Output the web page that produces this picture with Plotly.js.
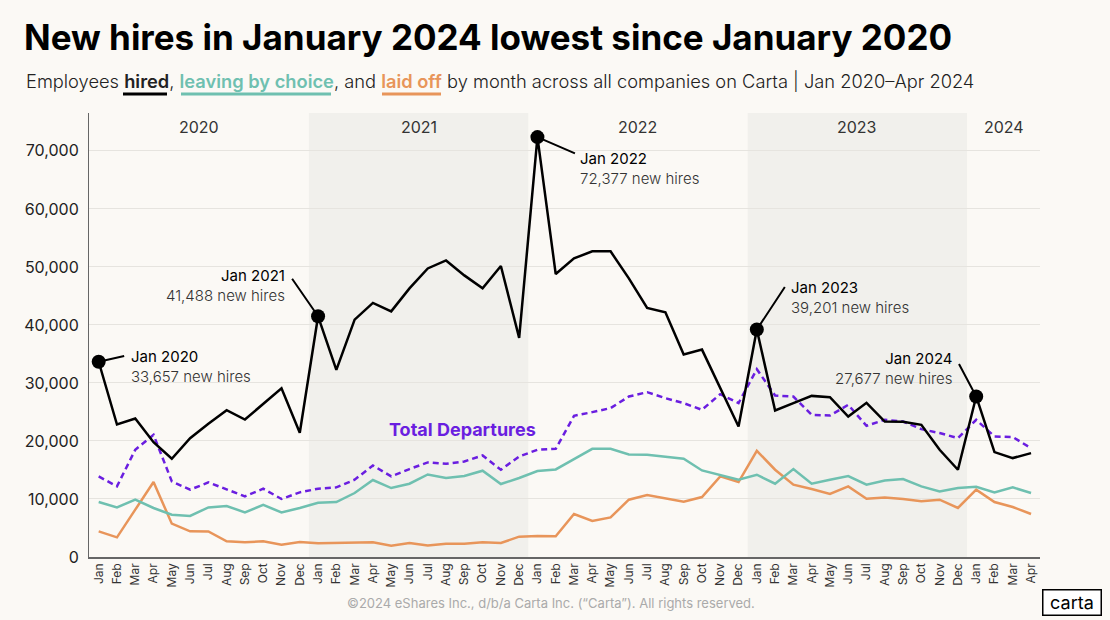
<!DOCTYPE html>
<html>
<head>
<meta charset="utf-8">
<script src="https://cdn.plot.ly/plotly-3.0.1.min.js"></script>
<style>
html,body{margin:0;padding:0;background:#fbf9f5;}
#chart{width:1110px;height:620px;}
</style>
</head>
<body>
<div id="chart"></div>
<script>
// ---- data ----
const monthNames = ["Jan","Feb","Mar","Apr","May","Jun","Jul","Aug","Sep","Oct","Nov","Dec"];
const years = [2020, 2021, 2022, 2023, 2024];
const monthsInYear = [12, 12, 12, 12, 4];

const hired = [33657, 22840, 23870, 19790, 16930, 20480, 22960, 25300, 23700, 26400, 29090, 21410,
  41488, 32250, 40910, 43790, 42340, 46300, 49740, 51120, 48540, 46300, 50150, 37760,
  72377, 48770, 51470, 52680, 52680, 48030, 42920, 42180, 34890, 35750, 29200, 22490,
  39201, 25250, 26520, 27770, 27550, 24210, 26570, 23350, 23300, 22780, 18480, 15040,
  27677, 18080, 17050, 17910];

const leavingByChoice = [9480, 8550, 9880, 8450, 7300, 7070, 8550, 8790, 7690, 8970, 7690, 8450,
  9360, 9480, 11030, 13270, 11890, 12630, 14230, 13610, 13960, 14870, 12580, 13610,
  14820, 15090, 16880, 18650, 18650, 17670, 17620, 17330, 16930, 14920, 14060, 13320,
  14180, 12630, 15160, 12630, 13320, 13960, 12460, 13200, 13440, 12170, 11310, 11890,
  12110, 11140, 12000, 11030];

const laidOff = [4420, 3390, 8160, 12920, 5750, 4420, 4400, 2700, 2530, 2700, 2130, 2600,
  2360, 2420, 2360, 2530, 1960, 2420, 1990, 2300, 2300, 2530, 2420, 3510,
  3630, 3560, 7410, 6210, 6830, 9880, 10690, 10100, 9530, 10340, 13890, 12920,
  18310, 15040, 12460, 11720, 10860, 12170, 10050, 10270, 10000, 9590, 9880, 8450,
  11600, 9480, 8620, 7410];

const totalDepartures = [13890, 12170, 18480, 21060, 13030, 11600, 12860, 11600, 10450, 11770, 10000, 11140,
  11770, 12000, 13320, 15780, 13890, 15160, 16300, 16070, 16470, 17500, 15040, 17330,
  18480, 18650, 24330, 24970, 25660, 27660, 28410, 27380, 26520, 25370, 28070, 26520,
  32370, 27830, 27660, 24500, 24390, 26230, 22610, 23640, 23350, 22040, 21360, 20500,
  23640, 20770, 20670, 18770];

const yTicks = [0, 10000, 20000, 30000, 40000, 50000, 60000, 70000];

// ---- derived ----
const xIdx = [], tickText = [], yearStart = [];
let k = 0;
years.forEach((y, yi) => {
  yearStart.push(k);
  for (let m = 0; m < monthsInYear[yi]; m++) { xIdx.push(k); tickText.push(monthNames[m]); k++; }
});
const janIdx = yearStart.slice();
const janVals = janIdx.map(i => hired[i]);

const C = {hired:'#000000', leave:'#6fc0b0', laid:'#e8955a', dep:'#6a1ee0', bg:'#fbf9f5', shade:'#f1f0ec'};
const FONT = 'Inter, "Noto Sans", sans-serif';

const L = 89, R = 70, T = 113, B = 63, W = 1110, H = 620;
const pw = W - L - R, ph = H - T - B;
const px2x = px => (px - L) / pw;
const py2y = py => (H - B - py) / ph;

const traces = [
  {x: xIdx, y: laidOff, mode:'lines', line:{color:C.laid, width:2.5}, hoverinfo:'skip'},
  {x: xIdx, y: leavingByChoice, mode:'lines', line:{color:C.leave, width:2.5}, hoverinfo:'skip'},
  {x: xIdx, y: totalDepartures, mode:'lines', line:{color:C.dep, width:2.5, dash:'6px,4px'}, hoverinfo:'skip'},
  {x: xIdx, y: hired, mode:'lines', line:{color:C.hired, width:2.5}, hoverinfo:'skip'},
  {x: janIdx, y: janVals, mode:'markers', marker:{color:'#000', size:14}, hoverinfo:'skip'}
];

const shapes = [];
years.forEach((y, yi) => {
  if (yi % 2 === 1) {
    shapes.push({type:'rect', xref:'x', yref:'paper', x0: yearStart[yi]-0.5, x1: yearStart[yi]+monthsInYear[yi]-0.5,
      y0:0, y1:1, fillcolor:C.shade, line:{width:0}, layer:'below'});
  }
});
// subtitle underlines
[[123,167,C.hired],[181,331,C.leave],[382,441,C.laid]].forEach(u => {
  shapes.push({type:'line', xref:'paper', yref:'paper', x0:px2x(u[0]), x1:px2x(u[1]), y0:py2y(94), y1:py2y(94),
    line:{color:u[2], width:3}});
});

const annotations = [];
// year labels
years.forEach((y, yi) => {
  annotations.push({x: yearStart[yi] + (monthsInYear[yi]-1)/2, xref:'x', y: py2y(127), yref:'paper',
    text: String(y), showarrow:false, font:{family:FONT, size:16, color:'#333'}, xanchor:'center', yanchor:'middle'});
});
// callouts
const callouts = [
  {ax:27, ay:-6, xs:30, ys:17, xa:'left'},
  {ax:-27, ay:-39, xs:-31, ys:52, xa:'right'},
  {ax:39, ay:17, xs:41, ys:-10, xa:'left'},
  {ax:29, ay:-44, xs:32, ys:54, xa:'left'},
  {ax:-18, ay:-34, xs:-21, ys:49, xa:'right'}
];
janIdx.forEach((i, n) => {
  const c = callouts[n];
  annotations.push({x:i, y:hired[i], xref:'x', yref:'y', ax:c.ax, ay:c.ay, axref:'pixel', ayref:'pixel',
    text:'', showarrow:true, arrowhead:0, arrowwidth:2, arrowcolor:'#000', standoff:0});
  annotations.push({x:i, y:hired[i], xref:'x', yref:'y', showarrow:false, xshift:c.xs, yshift:c.ys,
    xanchor:c.xa, yanchor:'top', align:c.xa,
    text:'<span style="font-weight:400">Jan ' + years[n] + '</span><br><span style="color:#333;font-weight:300">' +
      hired[i].toLocaleString('en-US') + ' new hires</span>',
    font:{family:FONT, size:15, color:'#000'}});
});
annotations.push({x:19.9, y:21900, xref:'x', yref:'y', text:'<b>Total Departures</b>', showarrow:false,
  font:{family:FONT, size:18, color:C.dep}, xanchor:'center', yanchor:'middle'});
// subtitle
annotations.push({x:px2x(24), y:py2y(81), xref:'paper', yref:'paper', xanchor:'left', yanchor:'middle', showarrow:false,
  text:'Employees <span style="font-weight:600">hired</span>, <span style="color:' + C.leave + ';font-weight:600">leaving by choice</span>, and <span style="color:' + C.laid + ';font-weight:600">laid off</span> by month across all companies on Carta | Jan 2020–Apr 2024',
  font:{family:FONT, size:18.3, color:'#222', weight:300}});
// footer
annotations.push({x:px2x(551), y:py2y(603), xref:'paper', yref:'paper', xanchor:'center', yanchor:'middle', showarrow:false,
  text:'©2024 eShares Inc., d/b/a Carta Inc. (“Carta”). All rights reserved.', font:{family:FONT, size:13, color:'#aaa'}});
// logo
annotations.push({x:px2x(1071.5), y:py2y(602), xref:'paper', yref:'paper', xanchor:'center', yanchor:'middle', showarrow:false,
  text:'&nbsp;carta&nbsp;', font:{family:FONT, size:18, color:'#000'}, bordercolor:'#000', borderwidth:1.5, borderpad:1.5, bgcolor:'#fff'});

const layout = {
  width:W, height:H, paper_bgcolor:C.bg, plot_bgcolor:C.bg, showlegend:false,
  margin:{l:L, r:R, t:T, b:B},
  title:{text:'<b>New hires in January 2024 lowest since January 2020</b>', x:24/W, xref:'container', xanchor:'left',
    y:1-38/H, yref:'container', yanchor:'middle', font:{family:FONT, size:35, color:'#000'}},
  xaxis:{range:[-0.53, 51.49], tickvals:xIdx, ticktext:tickText, tickangle:-90, showgrid:false, zeroline:false,
    showline:true, linecolor:'#666', linewidth:1.5, ticks:'', tickfont:{family:FONT, size:12, color:'#333'}, fixedrange:true},
  yaxis:{range:[0, 76530], tickvals:yTicks, tickformat:',d', showgrid:true, gridcolor:'#e6e4df', gridwidth:1, zeroline:false,
    showline:true, linecolor:'#666', linewidth:1, ticks:'', ticklabelstandoff:6,
    tickfont:{family:FONT, size:16, color:'#222'}, fixedrange:true},
  shapes:shapes, annotations:annotations
};
Plotly.newPlot('chart', traces, layout, {displayModeBar:false, staticPlot:true});
</script>
</body>
</html>
